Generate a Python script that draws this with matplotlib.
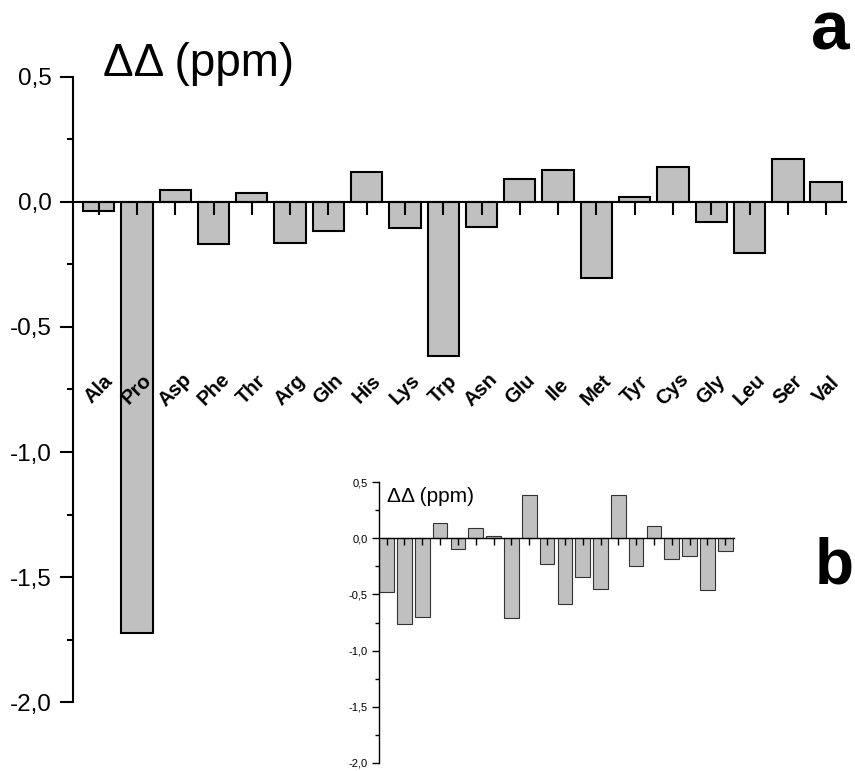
# -*- coding:utf-8 -*-
import numpy as np
import matplotlib
matplotlib.use('Agg')
import matplotlib.pyplot as plt
from matplotlib.ticker import FuncFormatter, MultipleLocator

plt.rcParams['font.family'] = ['Liberation Sans', 'DejaVu Sans']

#-------------------------------------------
# data
#-------------------------------------------
residues = ['Ala', 'Pro', 'Asp', 'Phe', 'Thr', 'Arg', 'Gln', 'His', 'Lys', 'Trp',
            'Asn', 'Glu', 'Ile', 'Met', 'Tyr', 'Cys', 'Gly', 'Leu', 'Ser', 'Val']
dd_a = [-0.037, -1.724, 0.048, -0.169, 0.035, -0.164, -0.117, 0.118, -0.104, -0.617,
        -0.102, 0.090, 0.126, -0.303, 0.021, 0.140, -0.081, -0.205, 0.172, 0.079]
dd_b = [-0.48, -0.76, -0.70, 0.136, -0.095, 0.092, 0.017, -0.708, 0.384, -0.228,
        -0.587, -0.347, -0.451, 0.387, -0.243, 0.110, -0.185, -0.159, -0.462, -0.110]
y_ticks = [-2.0, -1.5, -1.0, -0.5, 0.0, 0.5]

bar_color = '#c0c0c0'


def comma_fmt(v, pos):
    return ('%.1f' % v).replace('.', ',')


def style_axes(ax, lw, major_len, minor_len, label_size, pad):
    ax.spines['top'].set_visible(False)
    ax.spines['right'].set_visible(False)
    ax.spines['bottom'].set_position(('data', 0))
    ax.spines['left'].set_linewidth(lw)
    ax.spines['bottom'].set_linewidth(lw)
    ax.set_ylim(-2.0, 0.5)
    ax.set_yticks(y_ticks)
    ax.yaxis.set_minor_locator(MultipleLocator(0.25))
    ax.yaxis.set_major_formatter(FuncFormatter(comma_fmt))
    ax.tick_params(axis='y', which='major', direction='out', length=major_len,
                   width=lw, labelsize=label_size, pad=pad)
    ax.tick_params(axis='y', which='minor', direction='out', length=minor_len, width=lw)
    ax.tick_params(axis='x', which='major', direction='out', length=major_len,
                   width=lw, labelbottom=False)
    ax.set_facecolor('none')


fig = plt.figure(figsize=(8.55, 7.71), dpi=100)

# ---- panel a ----
x = np.arange(len(residues))
ax = fig.add_axes([73 / 855, 1 - 702.3 / 771, 773 / 855, 625.6 / 771])
ax.bar(x, dd_a, width=0.82, color=bar_color, edgecolor='black', linewidth=1.5)
ax.set_xlim(-0.67, 19.52)
ax.set_xticks(x)
style_axes(ax, 1.5, 9.4, 4.5, 17.5, 6)
for i, name in enumerate(residues):
    ax.text(x[i], -0.75, name, rotation=45, ha='center', va='center',
            fontsize=14.5, fontweight='bold')
ax.text(103 / 855, 1 - 64 / 771, u'ΔΔ (ppm)', transform=fig.transFigure,
        fontsize=33, ha='left', va='center')
fig.text(830 / 855, 1 - 32 / 771, 'a', fontsize=50, fontweight='bold',
         ha='center', va='center')

# ---- panel b (inset) ----
axb = fig.add_axes([379 / 855, 1 - 763 / 771, 355 / 855, 281 / 771])
axb.bar(x, dd_b, width=0.82, color=bar_color, edgecolor='#333333', linewidth=0.8)
axb.set_xlim(-0.43, 19.49)
axb.set_xticks(x)
style_axes(axb, 1.0, 5, 3, 8, 3)
fig.text(387 / 855, 1 - 496 / 771, u'ΔΔ (ppm)', fontsize=15, ha='left', va='center')
fig.text(834 / 855, 1 - 567 / 771, 'b', fontsize=46, fontweight='bold',
         ha='center', va='center')

fig.savefig('out.png', dpi=100)
